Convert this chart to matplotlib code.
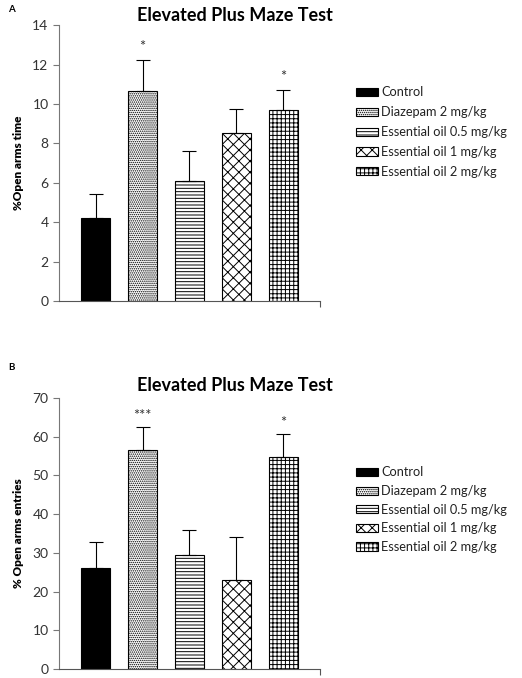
import matplotlib
matplotlib.use('Agg')
import matplotlib.pyplot as plt
import numpy as np

# grupos y estilos de relleno
groups = ["Control", "Diazepam 2 mg/kg", "Essential oil 0.5 mg/kg",
          "Essential oil 1 mg/kg", "Essential oil 2 mg/kg"]
hatches = [None, '........', '-----', 'xxx', '++++']
colors = ['black', 'white', 'white', 'white', 'white']

# panel A: % tiempo en brazos abiertos
time_mean = [4.2, 10.65, 6.07, 8.55, 9.68]
time_err = [1.25, 1.6, 1.53, 1.2, 1.02]
time_sig = ["", "*", "", "", "*"]

# panel B: % entradas a brazos abiertos
entries_mean = [26.0, 56.5, 29.5, 23.0, 54.8]
entries_err = [6.8, 6.0, 6.5, 11.2, 5.9]
entries_sig = ["", "***", "", "", "*"]

plt.rcParams['font.family'] = ['Lato', 'DejaVu Sans']
plt.rcParams['hatch.linewidth'] = 0.7

fig = plt.figure(figsize=(5.22, 6.78), dpi=100)


def panel(rect, means, errs, sigs, ylabel, ymax, ystep, sig_off, letter, letter_y,
          title_y, leg_y, leg_sp):
    ax = fig.add_axes(rect)
    x = np.arange(len(means))
    bars = ax.bar(x, means, width=0.62, color=colors, edgecolor='black',
                  linewidth=0.8, label=groups, zorder=2)
    for b, h in zip(bars, hatches):
        if h:
            b.set_hatch(h)
    ax.errorbar(x, means, yerr=[np.zeros(len(errs)), errs], fmt='none',
                ecolor='black', elinewidth=0.8, capsize=5, capthick=0.8, zorder=3)
    for xi, m, e, s in zip(x, means, errs, sigs):
        if s:
            ax.text(xi, m + e + sig_off, s, ha='center', va='bottom',
                    fontsize=10.5, color='#333333')
    ax.set_xlim(-0.78, 4.78)
    ax.set_ylim(0, ymax)
    ax.set_yticks(np.arange(0, ymax + 0.01, ystep))
    ax.set_xticks([4.78])
    ax.set_xticklabels([])
    ax.tick_params(axis='x', length=4, width=0.8, color='#555555')
    ax.tick_params(axis='y', length=4, width=0.8, color='#777777',
                   labelsize=10, labelcolor='#333333')
    for s in ['top', 'right']:
        ax.spines[s].set_visible(False)
    ax.spines['left'].set_color('#777777')
    ax.spines['bottom'].set_color('#555555')
    ax.set_ylabel(ylabel, fontsize=8.5, fontweight='heavy', labelpad=6)
    ax.legend(loc='upper left', bbox_to_anchor=(1.095, leg_y), frameon=False,
              fontsize=9.2, handlelength=1.7, handleheight=0.6,
              labelspacing=0.62 if leg_sp > 0.5 else 0.52, handletextpad=0.25,
              labelcolor='#222222')
    fig.text(0.015, letter_y, letter, fontsize=7, fontweight='bold')
    fig.text(0.45, title_y, "Elevated Plus Maze Test", ha='center', va='center',
             fontsize=13, fontweight='bold')
    return ax


panel([0.113, 0.556, 0.50, 0.407], time_mean, time_err, time_sig,
      "%Open arms time", 14, 2, 0.3, "A", 0.983, 0.977, 0.82, 0.55)
panel([0.113, 0.013, 0.50, 0.40], entries_mean, entries_err, entries_sig,
      "% Open arms entries", 70, 10, 1.0, "B", 0.455, 0.432, 0.79, 0.45)

fig.savefig('out.png', dpi=100)
